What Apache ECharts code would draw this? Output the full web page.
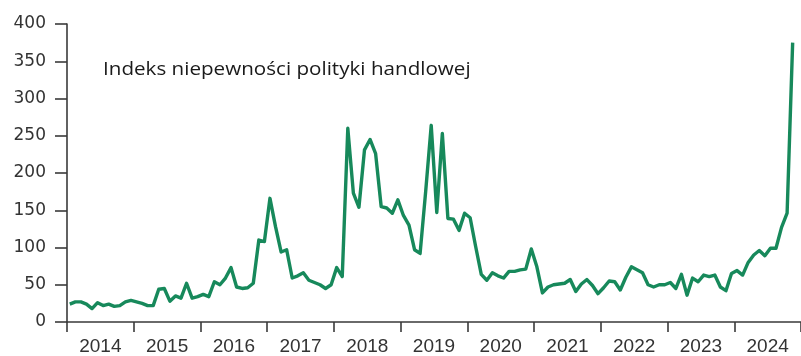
<!DOCTYPE html>
<html>
<head>
<meta charset="utf-8">
<script src="https://cdn.jsdelivr.net/npm/echarts@6/dist/echarts.min.js"></script>
<style>
html,body{margin:0;padding:0;background:#fff;}
#chart{width:801px;height:356px;}
</style>
</head>
<body>
<div id="chart"></div>
<script>
const titleText = 'Indeks niepewności polityki handlowej';
const years = ['2014','2015','2016','2017','2018','2019','2020','2021','2022','2023','2024'];
const yTicks = [0, 50, 100, 150, 200, 250, 300, 350, 400];

const v2014 = [24, 27, 27, 24, 18, 26, 22, 24, 21, 22, 27, 29];
const v2015 = [27, 25, 22, 22, 44, 45, 28, 35, 32, 52, 32, 34];
const v2016 = [37, 34, 54, 50, 59, 73, 47, 45, 46, 52, 110, 108];
const v2017 = [166, 128, 94, 97, 59, 62, 66, 56, 53, 50, 45, 50];
const v2018 = [73, 61, 260, 173, 154, 231, 245, 226, 155, 153, 146, 164];
const v2019 = [143, 130, 97, 92, 175, 264, 147, 253, 139, 138, 123, 146];
const v2020 = [140, 101, 64, 56, 66, 62, 59, 68, 68, 70, 71, 98];
const v2021 = [74, 39, 47, 50, 51, 52, 57, 41, 51, 57, 49, 38];
const v2022 = [46, 55, 54, 43, 60, 74, 70, 66, 50, 47, 50, 50];
const v2023 = [53, 45, 64, 36, 59, 54, 63, 61, 63, 47, 42, 65];
const v2024 = [69, 63, 80, 90, 96, 89, 99, 99, 127, 146, 375];

const values = [].concat(v2014, v2015, v2016, v2017, v2018, v2019, v2020, v2021, v2022, v2023, v2024);
const months = [];
years.forEach(y => { for (let m = 1; m <= 12; m++) months.push(y + '-' + (m < 10 ? '0' + m : m)); });

const chart = echarts.init(document.getElementById('chart'), null, {renderer: 'canvas'});
chart.setOption({
  animation: false,
  backgroundColor: '#ffffff',
  graphic: [{
    type: 'text',
    x: 103,
    y: 70,
    scaleX: 1.145,
    style: {
      text: titleText,
      fontFamily: 'Open Sans',
      fontSize: 18,
      fill: '#1a1a1a',
      textVerticalAlign: 'middle',
      verticalAlign: 'middle'
    }
  }],
  grid: {left: 67, top: 24, width: 739, height: 298},
  xAxis: [
    {
      type: 'category',
      data: years,
      boundaryGap: true,
      axisLine: {show: true, lineStyle: {color: '#3a3a3a', width: 1.6}},
      axisTick: {show: true, length: 10, interval: 0, lineStyle: {color: '#3a3a3a', width: 1.6}},
      axisLabel: {interval: 0, margin: 15, fontFamily: 'Liberation Sans', fontSize: 19, color: '#333'},
      splitLine: {show: false}
    },
    {
      type: 'category',
      data: months,
      boundaryGap: true,
      show: false
    }
  ],
  yAxis: {
    type: 'value',
    min: yTicks[0],
    max: yTicks[yTicks.length - 1],
    interval: 50,
    axisLine: {show: true, lineStyle: {color: '#3a3a3a', width: 1.6}},
    axisTick: {show: true, length: 12, lineStyle: {color: '#3a3a3a', width: 1.6}},
    axisLabel: {margin: 21, fontFamily: 'DejaVu Sans', fontSize: 17, color: '#333'},
    splitLine: {show: false}
  },
  series: [{
    type: 'line',
    xAxisIndex: 1,
    data: values,
    symbol: 'none',
    lineStyle: {color: '#17895b', width: 3.4, join: 'round'},
    clip: false
  }]
});
</script>
</body>
</html>
